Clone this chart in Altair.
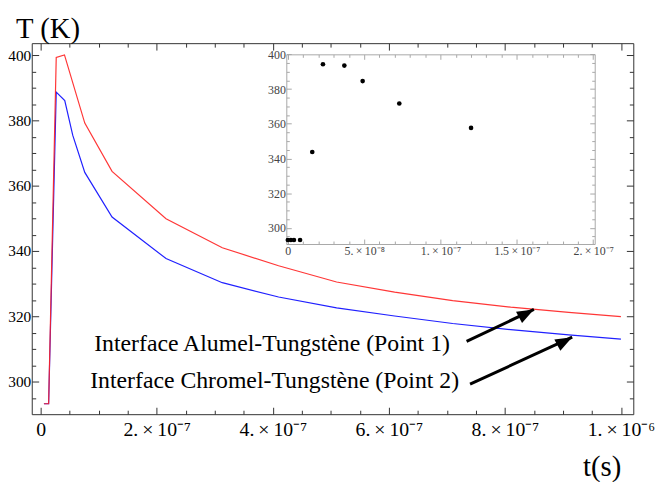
import json
import altair as alt
import pandas as pd

# ---------------- data ----------------
# Main curves: time (s), temperature (K)
RED_TIME = [0.0056e-6, 0.0137e-6, 0.0268e-6, 0.041e-6, 0.076e-6, 0.123e-6, 0.216e-6,
            0.313e-6, 0.41e-6, 0.51e-6, 0.61e-6, 0.71e-6, 0.81e-6, 0.91e-6, 1.0e-6]
RED_TEMP = [293.2, 293.2, 399.3, 400.1, 379.2, 364.4, 349.9,
            341.0, 335.5, 330.5, 327.4, 324.8, 322.8, 321.2, 319.9]
BLUE_TIME = [0.0056e-6, 0.0137e-6, 0.0268e-6, 0.0415e-6, 0.0552e-6, 0.076e-6, 0.123e-6,
             0.216e-6, 0.313e-6, 0.41e-6, 0.51e-6, 0.61e-6, 0.71e-6, 0.81e-6, 0.91e-6, 1.0e-6]
BLUE_TEMP = [293.2, 293.2, 388.7, 386.1, 375.5, 364.1, 350.4,
             337.7, 330.3, 325.9, 322.6, 320.1, 317.8, 315.9, 314.3, 313.0]

# Inset points
INSET_TIME = [0.0, 2e-9, 4e-9, 8e-9, 16e-9, 23e-9, 37e-9, 49e-9, 73e-9, 120e-9]
INSET_TEMP = [293.0, 293.0, 293.0, 293.0, 343.7, 394.3, 393.5, 384.6, 371.7, 357.6]

# Annotations (anchored in data coordinates of the main plot)
LABELS = ["Interface Alumel-Tungstène (Point 1)", "Interface Chromel-Tungstène (Point 2)"]
LABEL_TIME = [0.0922e-6, 0.0853e-6]
LABEL_TEMP = [309.4, 297.9]
ARROW_TAIL_TIME = [0.734e-6, 0.740e-6]
ARROW_TAIL_TEMP = [312.3, 299.2]
ARROW_TIP_TIME = [0.850e-6, 0.916e-6]
ARROW_TIP_TEMP = [322.1, 313.6]

# Tick labels
X_TICKS = [0, 2e-7, 4e-7, 6e-7, 8e-7, 1e-6]
X_TICK_LABELS = ["0", "2.\u2009×\u200910⁻⁷", "4.\u2009×\u200910⁻⁷", "6.\u2009×\u200910⁻⁷",
                 "8.\u2009×\u200910⁻⁷", "1.\u2009×\u200910⁻⁶"]
Y_TICKS = [300, 320, 340, 360, 380, 400]
INSET_X_TICKS = [0, 5e-8, 1e-7, 1.5e-7, 2e-7]
INSET_X_TICK_LABELS = ["0", "5.\u2009×\u200910⁻⁸", "1.\u2009×\u200910⁻⁷", "1.5\u2009×\u200910⁻⁷",
                       "2.\u2009×\u200910⁻⁷"]
INSET_Y_TICKS = [300, 320, 340, 360, 380, 400]

# ---------------- styling ----------------
SERIF = "Liberation Serif"
RED = "#ff2020"
BLUE = "#2020ff"
FRAME = "#333333"
INSET_FRAME = "#a8a8a8"
W, H = 608, 375

X_MINOR = [round(i * 5e-8, 12) for i in range(0, 21)]
Y_MINOR = list(range(295, 405, 5))
INSET_X_MINOR = [round(i * 1e-8, 12) for i in range(0, 21)]
INSET_Y_MINOR = list(range(295, 401, 5))


def tsize(test, big, small):
    return {"condition": {"test": test, "value": big}, "value": small}


X_MAJOR_TEST = "abs(datum.value / 2e-7 - round(datum.value / 2e-7)) < 0.001"
Y_MAJOR_TEST = "datum.value % 20 == 0"
IX_MAJOR_TEST = "abs(datum.value / 5e-8 - round(datum.value / 5e-8)) < 0.001"

xs = alt.Scale(domain=[-1.54e-8, 1.0213e-6], nice=False, zero=False)
ys = alt.Scale(domain=[290.0, 403.7], nice=False, zero=False)

ixs = alt.Scale(domain=[-1e-9, 2.01e-7], range=[257.3, 569], nice=False, zero=False)
iys = alt.Scale(domain=[290.7, 400], range=[203, 11.3], nice=False, zero=False)

common = dict(grid=False, title="")


def tick_axis(orient, offset, values, test, big, small, color):
    return alt.Axis(orient=orient, offset=offset, values=values, labels=False,
                    ticks=True, tickSize=tsize(test, big, small), tickColor=color,
                    tickWidth=1, domain=True, domainColor=color, domainWidth=1, **common)


# main axes
AX_X_LABELS = alt.Axis(orient="bottom", values=X_TICKS, ticks=False, domain=False, grid=False,
                       labelExpr=json.dumps(X_TICK_LABELS, ensure_ascii=False) + "[round(datum.value / 2e-7)]",
                       labelFont=SERIF, labelFontSize=20, labelColor="black", labelPadding=6,
                       labelFlush=False, labelOverlap=False,
                       title="t(s)", titleFont=SERIF, titleFontSize=29, titleFontWeight="normal",
                       titleColor="black", titleAngle=0, titleX=576, titleY=62,
                       titleAlign="center", titleBaseline="alphabetic")
AX_Y_LABELS = alt.Axis(orient="left", values=Y_TICKS, ticks=False, domain=False, grid=False,
                       format=".0f", labelFont=SERIF, labelFontSize=15.5, labelColor="black",
                       labelPadding=1, labelFlush=False, labelOverlap=False,
                       title="T (K)", titleFont=SERIF, titleFontSize=29, titleFontWeight="normal",
                       titleColor="black", titleAngle=0, titleX=16, titleY=-6,
                       titleAlign="center", titleBaseline="alphabetic")
AX_X_BOTTOM = tick_axis("top", -H, X_MINOR, X_MAJOR_TEST, 7, 4, FRAME)
AX_X_TOP = tick_axis("bottom", -H, X_MINOR, X_MAJOR_TEST, 7, 4, FRAME)
AX_Y_LEFT = tick_axis("right", -W, Y_MINOR, Y_MAJOR_TEST, 7, 4, FRAME)
AX_Y_RIGHT = tick_axis("left", -W, Y_MINOR, Y_MAJOR_TEST, 7, 4, FRAME)

red_df = pd.DataFrame({"t": RED_TIME, "T": RED_TEMP})
blue_df = pd.DataFrame({"t": BLUE_TIME, "T": BLUE_TEMP})
ann_df = pd.DataFrame({"t": LABEL_TIME, "T": LABEL_TEMP, "label": LABELS})
arrow_df = pd.DataFrame({"t0": ARROW_TAIL_TIME, "T0": ARROW_TAIL_TEMP,
                         "t1": ARROW_TIP_TIME, "T1": ARROW_TIP_TEMP})

blue = alt.Chart(blue_df).mark_line(color=BLUE, strokeWidth=1.2).encode(
    x=alt.X("t:Q", scale=xs, axis=AX_X_BOTTOM),
    y=alt.Y("T:Q", scale=ys, axis=AX_Y_LEFT),
)
red = alt.Chart(red_df).mark_line(color=RED, strokeWidth=1.2, opacity=0.9).encode(
    x=alt.X("t:Q", scale=xs, axis=AX_X_LABELS),
    y=alt.Y("T:Q", scale=ys, axis=AX_Y_LABELS),
)
ann = alt.Chart(ann_df).mark_text(align="left", baseline="alphabetic", font=SERIF,
                                  fontSize=24, color="black").encode(
    x=alt.X("t:Q", scale=xs, axis=AX_X_TOP),
    y=alt.Y("T:Q", scale=ys, axis=AX_Y_RIGHT),
    text="label:N",
)
shafts = alt.Chart(arrow_df).mark_rule(color="black", strokeWidth=3).encode(
    x=alt.X("t0:Q", scale=xs, axis=None),
    y=alt.Y("T0:Q", scale=ys, axis=None),
    x2="t1:Q",
    y2="T1:Q",
)
heads = alt.Chart(arrow_df).mark_point(shape="M0,0L-0.38,1L0.38,1Z", filled=True,
                                       color="black", opacity=1, size=1156, angle=62,
                                       strokeWidth=0).encode(
    x=alt.X("t1:Q", scale=xs, axis=None),
    y=alt.Y("T1:Q", scale=ys, axis=None),
)

main = alt.layer(blue, red, ann, shafts, heads).resolve_axis(x="independent", y="independent")

# inset axes
IX_LABELS = alt.Axis(orient="bottom", offset=-(H - 203), values=INSET_X_TICKS, ticks=False,
                     domain=False, grid=False, title="",
                     labelExpr=json.dumps(INSET_X_TICK_LABELS, ensure_ascii=False) + "[round(datum.value / 5e-8)]",
                     labelFont=SERIF, labelFontSize=12, labelColor="#444444", labelPadding=2,
                     labelFlush=False, labelOverlap=False)
IY_LABELS = alt.Axis(orient="left", offset=-257.3, values=INSET_Y_TICKS, ticks=False,
                     domain=False, grid=False, title="", format=".0f",
                     labelFont=SERIF, labelFontSize=12, labelColor="#444444", labelPadding=1,
                     labelFlush=False, labelOverlap=False)
IX_BOTTOM = tick_axis("top", -203, INSET_X_MINOR, IX_MAJOR_TEST, 5, 3, INSET_FRAME)
IX_TOP = tick_axis("bottom", -(H - 11.3), INSET_X_MINOR, IX_MAJOR_TEST, 5, 3, INSET_FRAME)
IY_LEFT = tick_axis("right", -(W - 257.3), INSET_Y_MINOR, Y_MAJOR_TEST, 5, 3, INSET_FRAME)
IY_RIGHT = tick_axis("left", -569, INSET_Y_MINOR, Y_MAJOR_TEST, 5, 3, INSET_FRAME)

inset_df = pd.DataFrame({"t": INSET_TIME, "T": INSET_TEMP})

dots = alt.Chart(inset_df).mark_circle(color="black", size=22, opacity=1).encode(
    x=alt.X("t:Q", scale=ixs, axis=IX_LABELS),
    y=alt.Y("T:Q", scale=iys, axis=IY_LABELS),
)
frame1 = alt.Chart(inset_df).mark_circle(opacity=0, size=1).encode(
    x=alt.X("t:Q", scale=ixs, axis=IX_BOTTOM),
    y=alt.Y("T:Q", scale=iys, axis=IY_LEFT),
)
frame2 = alt.Chart(inset_df).mark_circle(opacity=0, size=1).encode(
    x=alt.X("t:Q", scale=ixs, axis=IX_TOP),
    y=alt.Y("T:Q", scale=iys, axis=IY_RIGHT),
)
inset = alt.layer(frame1, frame2, dots).resolve_axis(x="independent", y="independent")

chart = alt.layer(main, inset).resolve_scale(x="independent", y="independent").properties(
    width=W, height=H,
    autosize=alt.AutoSizeParams(type="none"),
    padding={"left": 24, "top": 33, "right": 28, "bottom": 66},
    background="white",
).configure_view(stroke=None)

chart.save("out.html", embed_options={"renderer": "svg", "actions": False})
